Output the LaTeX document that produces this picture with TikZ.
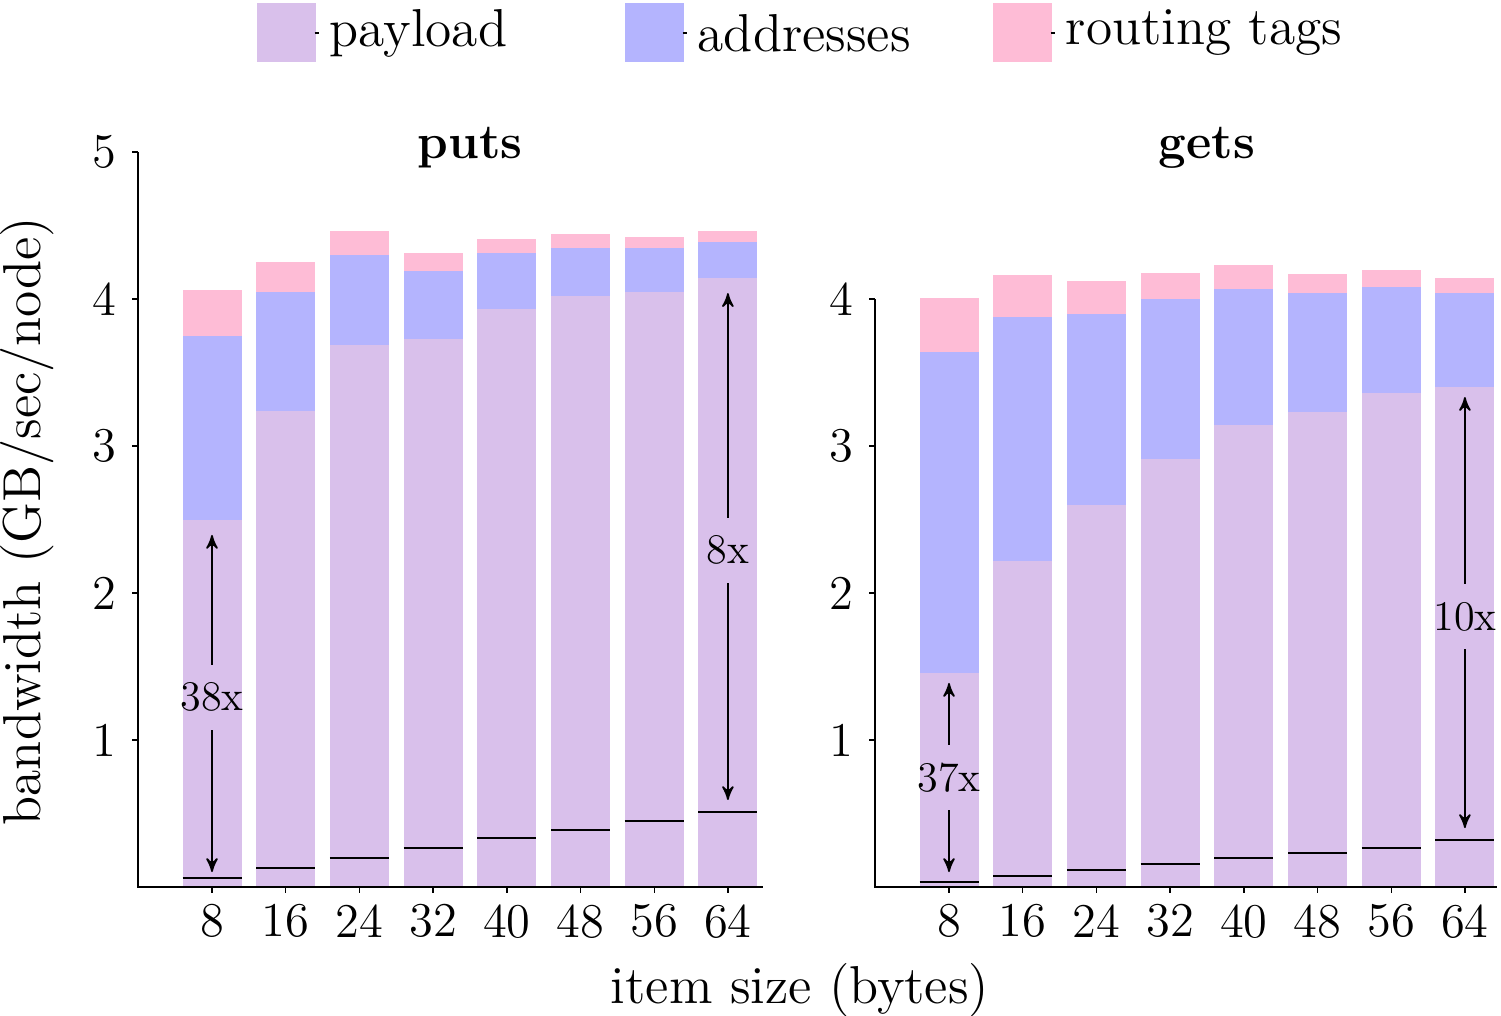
\documentclass[tikz,border=0pt]{standalone}
\usepackage{tikz}
\usetikzlibrary{shapes, arrows, positioning}
\definecolor{payload}{RGB}{217,192,235}
\definecolor{address}{RGB}{180,180,254}
\definecolor{routing}{RGB}{254,188,214}
\tikzstyle{axis} = [draw, line width=0.6pt]
\tikzstyle{lvl}  = [draw, line width=0.7pt]
\tikzstyle{gap}  = [draw, line width=0.5pt, -stealth']
\tikzstyle{lbl}  = [font=\fontsize{12}{14}\selectfont, minimum height=0.64cm, inner sep=0pt]
\tikzstyle{tck}  = [font=\fontsize{13.8}{16}\selectfont]
\tikzstyle{key}  = [minimum size=0.59cm, inner sep=0pt]
\tikzstyle{ttl}  = [font=\fontsize{14}{17}\selectfont\bfseries]
\tikzstyle{txt}  = [font=\fontsize{14.4}{17}\selectfont, scale=1.055, transform shape]

\begin{document}
\begin{tikzpicture}
\useasboundingbox (0,0) rectangle (15.01,10.15);

% legend
\node [key, fill=payload] at ( 2.865, 9.82) (kpay) {};
\node [key, fill=address] at ( 6.545, 9.82) (kadr) {};
\node [key, fill=routing] at (10.225, 9.82) (krtg) {};
\node [txt, right=0cm of kpay] (tpay) {payload};
\node [txt, right=0cm of kadr] (tadr) {addresses};
\node [txt, right=0cm of krtg] (trtg) {routing tags};
\foreach \k in {kpay, kadr, krtg}
  \draw [line width=0.4pt] ([xshift=-0.02cm]\k.east) -- ([xshift=0.02cm]\k.east);

% puts
\begin{scope}[shift={(1.38,1.28)}, y=1.47cm]
  \foreach \i/\s/\pay/\adr/\rtg/\low in {1/8/2.497/3.75/4.06/0.061, 2/16/3.24/4.05/4.25/0.129,
      3/24/3.69/4.30/4.46/0.197, 4/32/3.73/4.19/4.31/0.265, 5/40/3.93/4.31/4.41/0.333,
      6/48/4.02/4.35/4.44/0.388, 7/56/4.05/4.35/4.42/0.449, 8/64/4.14/4.39/4.46/0.51} {
    \pgfmathsetmacro\cx{0.74+(\i-1)*0.737}
    \fill [payload] (\cx-0.295,0) rectangle (\cx+0.295,\pay);
    \fill [address] (\cx-0.295,\pay) rectangle (\cx+0.295,\adr);
    \fill [routing] (\cx-0.295,\adr) rectangle (\cx+0.295,\rtg);
    \draw [lvl] (\cx-0.295,\low) -- (\cx+0.295,\low);
    \draw [line width=0.4pt] (\cx,0) -- (\cx,-0.04);
    \node [tck, anchor=north] at (\cx,-0.035) {\s};
  }
  \draw [axis] (0,5) -- (0,0) -- (6.25,0);
  \foreach \v in {1,...,5} {
    \draw [axis] (0,\v) -- (-0.06,\v);
    \node [tck, anchor=east] at (-0.09,\v) {\v};
  }
  \node [ttl] at (3.32,5.03) (tputs) {puts};
  % ratios
  \node [lbl] at (0.74,1.29) (n38) {38x};
  \coordinate (n38t) at (0.74,2.395);
  \coordinate (n38b) at (0.74,0.102);
  \draw [gap] (n38) -- (n38t);
  \draw [gap] (n38) -- (n38b);
  \node [lbl] at (5.899,2.29) (n8) {8x};
  \coordinate (n8t) at (5.899,4.04);
  \coordinate (n8b) at (5.899,0.592);
  \draw [gap] (n8) -- (n8t);
  \draw [gap] (n8) -- (n8b);
\end{scope}

% gets
\begin{scope}[shift={(8.75,1.28)}, y=1.47cm]
  \foreach \i/\s/\pay/\adr/\rtg/\low in {1/8/1.456/3.64/4.007/0.034, 2/16/2.218/3.88/4.16/0.075,
      3/24/2.60/3.90/4.12/0.116, 4/32/2.91/4.00/4.18/0.156, 5/40/3.14/4.07/4.23/0.197,
      6/48/3.23/4.04/4.17/0.231, 7/56/3.36/4.08/4.20/0.265, 8/64/3.40/4.04/4.14/0.32} {
    \pgfmathsetmacro\cx{0.74+(\i-1)*0.737}
    \fill [payload] (\cx-0.295,0) rectangle (\cx+0.295,\pay);
    \fill [address] (\cx-0.295,\pay) rectangle (\cx+0.295,\adr);
    \fill [routing] (\cx-0.295,\adr) rectangle (\cx+0.295,\rtg);
    \draw [lvl] (\cx-0.295,\low) -- (\cx+0.295,\low);
    \draw [line width=0.4pt] (\cx,0) -- (\cx,-0.04);
    \node [tck, anchor=north] at (\cx,-0.035) {\s};
  }
  \draw [axis] (0,4) -- (0,0) -- (6.22,0);
  \foreach \v in {1,...,4} {
    \draw [axis] (0,\v) -- (-0.06,\v);
    \node [tck, anchor=east] at (-0.09,\v) {\v};
  }
  \node [ttl] at (3.32,5.03) (tgets) {gets};
  % ratios
  \node [lbl] at (0.74,0.745) (n37) {37x};
  \coordinate (n37t) at (0.74,1.388);
  \coordinate (n37b) at (0.74,0.102);
  \draw [gap] (n37) -- (n37t);
  \draw [gap] (n37) -- (n37b);
  \node [lbl] at (5.899,1.84) (n10) {10x};
  \coordinate (n10t) at (5.899,3.333);
  \coordinate (n10b) at (5.899,0.401);
  \draw [gap] (n10) -- (n10t);
  \draw [gap] (n10) -- (n10b);
\end{scope}

% axis titles
\node [txt, rotate=90] at (0.27,4.94) (ylab) {bandwidth (GB/sec/node)};
\node [txt] at (8.0,0.25) (xlab) {item size (bytes)};

\end{tikzpicture}
\end{document}
